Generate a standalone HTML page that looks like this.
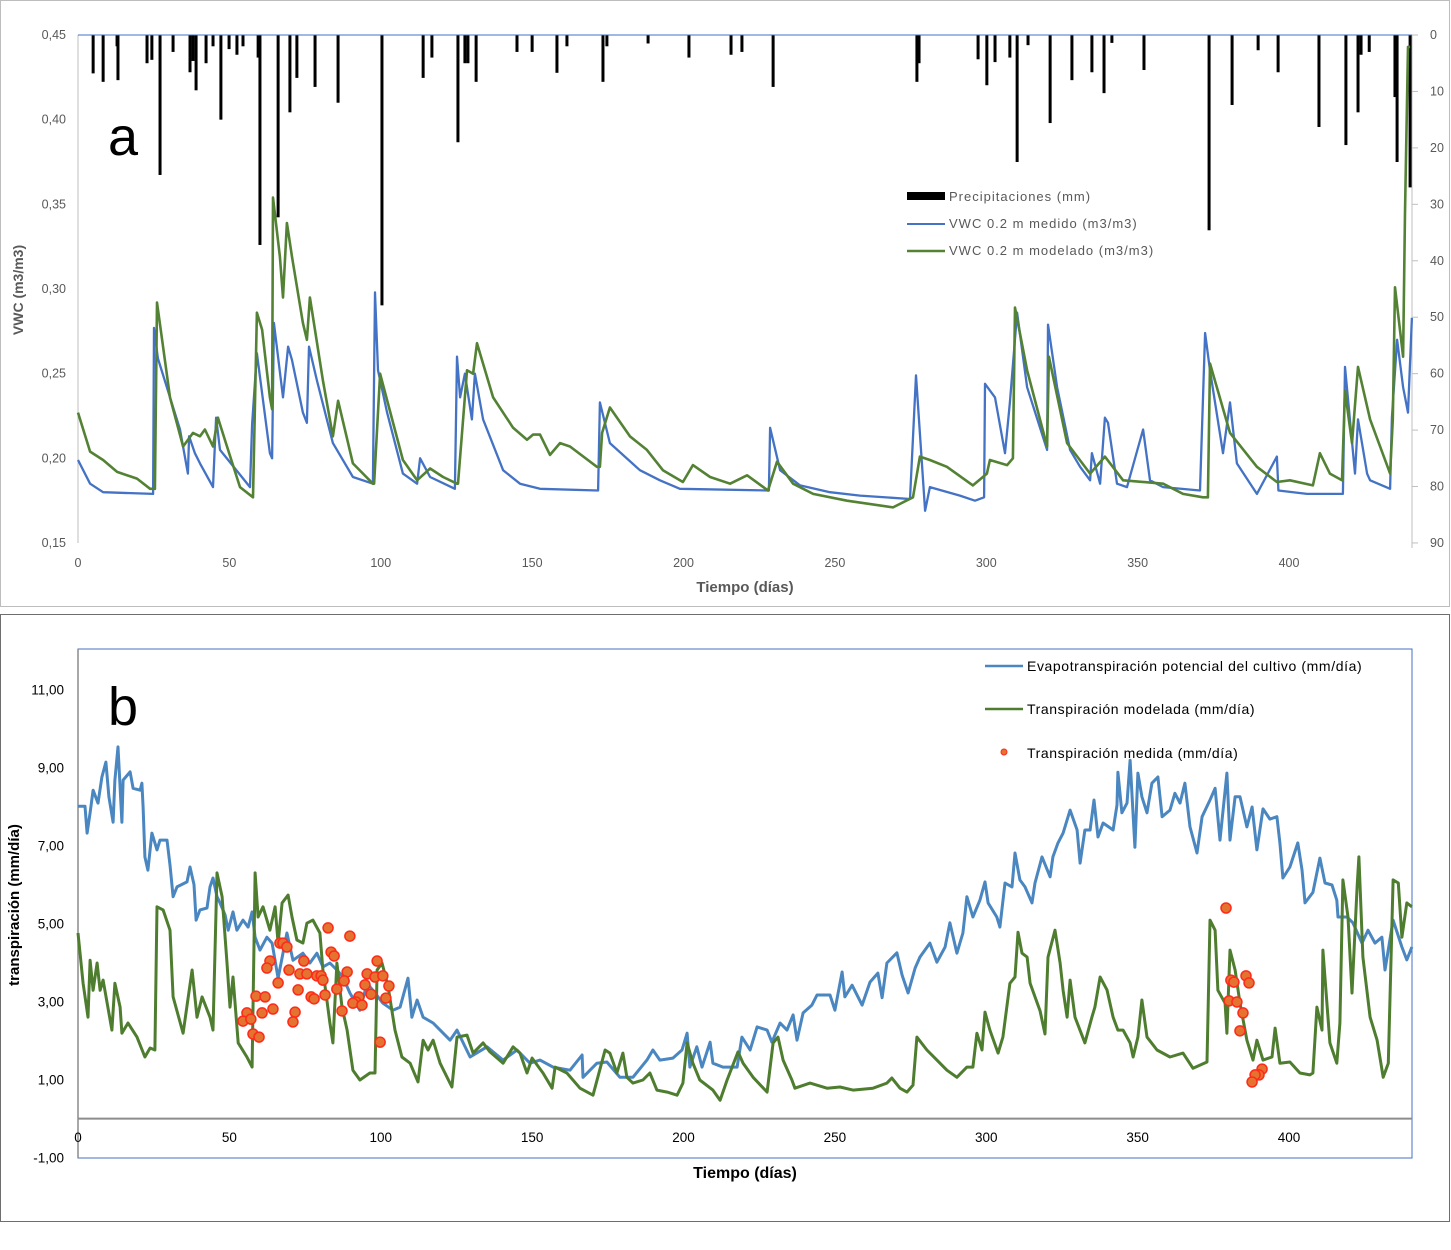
<!DOCTYPE html>
<html><head><meta charset="utf-8"><style>
html,body{margin:0;padding:0;background:#fff;}
svg{display:block;font-family:"Liberation Sans",sans-serif;}
</style></head><body>
<svg id="chart" width="1451" height="1250" viewBox="0 0 1451 1250" xmlns="http://www.w3.org/2000/svg">
<rect x="0.5" y="0.5" width="1449" height="606" fill="#fff" stroke="#bdbdbd"/>
<rect x="0.5" y="614.5" width="1449" height="607" fill="#fff" stroke="#6e6e6e"/>
<g id="pa"></g>
<g id="pb"></g>
</svg>
<script>
// ---------- Panel a data ----------
const precipDays=[5,8.3,12.9,13.2,22.8,24.4,27.1,31.4,37,38,39,42.3,44.6,47.2,49.9,52.5,54.5,59.5,60.1,66.1,70,72.3,78.3,85.9,100.4,114,116.9,125.5,127.8,128.8,131.5,145,150,158.2,161.5,173.4,174.7,188.3,201.8,215.7,219.3,229.6,277.1,277.8,297.3,300.2,302.9,307.8,310.2,313.8,321.1,328.3,334.9,338.9,341.5,352.1,373.6,381.2,389.8,396.4,409.9,418.8,422.8,423.8,426.5,435,435.7,440];
const precipMm=[6.8,8.3,2,8,5,4.4,24.8,3,6.6,4.6,9.8,5,2,15,2.5,3.5,2,4,37.2,32.3,13.7,7.6,9.2,12,47.9,7.6,4,19,5,5,8.3,3,3,6.7,2,8.3,2,1.5,4,3.5,3,9.2,8.3,5,4.3,8.9,4.8,4,22.5,1.8,15.6,8,6.6,10.3,1.4,6.2,34.6,12.4,2.7,6.6,16.3,19.5,13.7,3.5,3,11,22.5,27];
const vwcMedDays=[0,4,8.3,24.8,25.1,26.4,33.7,36.3,36.7,38.6,40.3,44.6,45.6,46.9,56.8,57.5,59.1,63.4,64.1,64.7,67.7,69.4,70.7,74.3,75.6,76.3,78.9,84.2,90.8,97.4,98.1,99.1,102.1,107.3,112,113,116.3,124.5,125.2,126.2,127.8,130.1,131.1,133.8,140.4,146,152.6,171.8,172.4,175.7,185.6,192.2,198.8,228.2,228.6,231.9,238.5,248.4,258.3,274.8,276.8,279.8,281.4,291.3,296.3,299.3,299.6,302.9,306.2,307.8,310.2,313.5,320.1,320.4,323.4,327.7,331,334.3,334.9,337.6,339.2,340.2,343.2,346.5,351.8,354.1,358.4,370.6,372.3,373.9,378.2,380.5,382.8,389.4,396,396.5,405.9,417.8,418.5,420.1,421.8,422.8,425.8,426.8,433.4,434,435.7,437.7,439.3,440.6];
const vwcMedVals=[.199,.185,.18,.179,.277,.259,.217,.191,.213,.203,.197,.183,.224,.205,.183,.22,.262,.203,.2,.28,.236,.266,.258,.227,.221,.266,.246,.209,.189,.185,.298,.252,.227,.191,.185,.2,.189,.182,.26,.236,.25,.223,.25,.223,.193,.185,.182,.181,.233,.209,.193,.187,.182,.181,.218,.193,.184,.18,.178,.176,.249,.169,.183,.178,.175,.177,.244,.236,.203,.233,.286,.242,.205,.279,.242,.205,.195,.187,.203,.185,.224,.221,.185,.183,.217,.187,.183,.181,.274,.252,.203,.233,.197,.179,.201,.181,.179,.179,.254,.223,.191,.223,.191,.187,.182,.224,.27,.242,.227,.283];
const vwcModDays=[0,4,8.3,12.9,19.5,23.8,25.4,26.1,30.4,34.7,38,40.3,41.9,44.6,46.2,49.2,53.5,57.8,59.1,60.8,63.4,64.1,64.4,66.7,67.7,69,70.7,74.3,75.6,76.6,80.9,84.2,85.9,90.8,97.4,97.8,99.8,107.3,112,116.3,120.6,125.2,125.5,128.5,130.5,131.8,137.1,143.7,148.3,150.3,152.6,155.9,159.2,162.5,171.4,172.4,173.1,175.7,182.3,187.9,193.2,199.8,203.1,208.8,215.4,221,227.9,230.9,236.2,242.8,254,269.2,275.8,278.1,281.4,287,295.6,300.2,301.2,306.9,308.8,309.5,313.5,320.1,320.7,326.7,334.3,339.2,345.2,358.4,365,371.6,373.2,373.9,380.5,389.4,396,400.3,407.9,410.2,413.5,417.5,418.5,420.8,422.8,426.8,433.4,434.3,435,437.7,438.3,439.3,440];
const vwcModVals=[.227,.204,.199,.192,.188,.182,.182,.292,.236,.207,.215,.213,.217,.207,.224,.207,.183,.177,.286,.276,.236,.229,.354,.319,.295,.339,.319,.28,.27,.295,.246,.213,.234,.197,.185,.185,.25,.199,.187,.194,.189,.185,.185,.252,.25,.268,.236,.218,.211,.214,.214,.202,.209,.207,.195,.195,.215,.23,.213,.205,.193,.186,.196,.189,.185,.19,.181,.198,.185,.179,.175,.171,.177,.201,.199,.195,.184,.191,.199,.196,.2,.289,.252,.207,.26,.209,.191,.201,.187,.185,.179,.177,.177,.256,.215,.195,.186,.187,.184,.203,.191,.187,.24,.209,.254,.223,.191,.223,.301,.26,.345,.443,.443];
const aXTicks=[0,50,100,150,200,250,300,350,400];
const aYTicks=[0.15,0.2,0.25,0.3,0.35,0.4,0.45];
const aY2Ticks=[0,10,20,30,40,50,60,70,80,90];
// ---------- Panel b data ----------
const etcDays=[0,2.3,3,4,5,6.6,7.9,9.2,10.2,11.6,12.2,13.2,14.5,14.9,17.2,18.2,20.5,21.1,21.5,22.1,23.1,24.4,26.1,27.1,29.4,30.4,31.4,32.7,36,37,38.3,39,40.3,42.6,43.6,44.6,45.9,46.9,48.6,49.6,51.2,52.5,54.5,56.2,57.5,58.5,60.1,62.4,64.1,66.1,69,71,74.3,76.6,78.9,80.9,83.2,85.5,87.5,89.8,93.1,95.5,97.4,100.7,104,106.4,109,110.3,112,114,117.3,119.6,122.9,125.2,129.5,135.1,140.4,145,149.3,152.6,156.9,162.5,166.5,166.8,171.4,174.7,179,183.3,187.9,189.9,192.2,196.5,199.5,201.2,202.1,204.4,206.1,208.8,209.7,213,217.7,219.3,222,224.3,227.6,229.2,231.9,234.2,236.2,237.5,239.5,242.4,244.1,248.4,250,252.4,253.3,255.7,259,261.6,264.2,265.6,267.2,270.5,272.2,274.2,276.5,278.1,281.4,283.7,286.4,288,290.3,292.3,293.6,295.6,297.9,299.6,300.6,303.5,304.5,306.2,308.5,309.5,311.1,312.8,315.1,316.1,318.4,321.1,322,323.7,325.4,327.7,330,331,332.6,334.3,335.6,336.9,338.6,341.9,343.2,343.5,344.8,346.5,347.5,349.1,350.1,351.4,353.1,354.7,356.7,358.1,360.7,362.3,364,365.6,367.3,369.6,371.3,373.9,375.6,377.2,379.5,380.5,382.2,383.8,386.1,387.8,389.4,391.4,393.7,396,397,398,400.3,402.9,404.3,405.3,407.9,410.2,411.9,414.2,415.8,416.2,419.2,421.1,424.1,426.1,428.4,430.7,431.7,434.4,437.3,438.9,440.6];
const etcVals=[8.01,8.01,7.32,7.84,8.42,8.09,8.76,9.14,8.25,7.6,8.68,9.53,7.6,8.68,8.89,8.47,8.42,8.6,7.99,6.71,6.37,7.32,6.89,7.14,7.14,6.5,5.69,5.94,6.07,6.45,6.0,5.09,5.35,5.4,5.94,6.17,5.69,5.53,5.22,4.83,5.3,4.83,5.09,4.91,5.3,4.65,4.32,4.65,4.5,3.6,4.76,4.06,4.24,3.99,4.24,3.89,3.99,3.81,3.63,3.22,2.78,3.47,3.29,2.96,2.78,2.86,3.6,2.6,3.04,2.6,2.45,2.27,2.01,2.27,1.58,1.84,1.5,1.76,1.42,1.5,1.32,1.24,1.63,1.06,1.42,1.45,1.06,1.06,1.5,1.76,1.5,1.55,1.76,2.19,1.32,1.84,1.32,1.96,1.42,1.32,1.32,2.09,1.76,2.35,2.27,1.96,2.45,2.27,2.66,2.01,2.71,2.91,3.17,3.17,2.78,3.76,3.12,3.42,2.91,3.5,3.73,3.1,3.99,4.25,3.68,3.22,3.86,4.14,4.5,4.01,4.4,5.02,4.24,4.76,5.69,5.17,5.6,6.07,5.53,5.17,4.91,6.04,5.94,6.81,6.12,5.94,5.53,6.04,6.71,6.2,6.71,7.07,7.32,7.91,7.4,6.55,7.4,7.4,8.17,7.22,7.58,7.4,8.04,8.88,7.84,8.09,9.19,6.96,8.86,8.25,7.84,8.6,8.76,7.74,7.91,8.34,8.09,8.6,7.48,6.81,7.74,8.17,8.47,7.14,8.86,7.14,8.25,8.25,7.48,7.99,6.89,7.94,7.68,7.74,7.07,6.17,6.45,7.07,6.38,5.53,5.8,6.68,6.04,5.99,5.6,5.17,5.17,5.02,4.5,4.83,4.5,4.65,3.81,5.09,4.4,4.07,4.4];
const trModDays=[0,1.7,3.3,4,5,6.3,7.3,8.3,11.2,12.2,13.9,14.5,16.5,19.5,22.1,23.8,25.4,26.1,28.1,30.4,31.4,34.7,37.7,39.3,41,43.6,44.6,45.9,47.6,49.2,50.2,51.2,52.9,55.8,57.5,58.5,59.5,61.1,63.4,65.1,66.1,67.4,69.4,70.7,72.3,74.3,75.6,77.6,79.9,80.9,83.2,84.2,85.5,87.2,88.9,90.8,93.1,96.4,98.1,98.8,100.4,102.4,104.7,107,109.7,112.3,114,115.6,117.3,119.6,123.5,125.2,128.5,130.5,133.8,136.1,140.4,143.7,146,148.3,150,153.6,156.6,157.6,161.5,165.8,170.1,174.1,175.7,178,180,181.3,183.3,186.6,188.9,191.2,194.6,197.9,199.8,201.2,203.1,205.4,209.7,212.1,214.4,218,219.7,223,227.6,229.6,231.2,232.9,235.8,236.8,241.8,247.4,251.7,256,262.6,267.2,268.8,271.5,273.8,275.8,277.1,280.4,283.7,287,290.3,293.6,295.6,296.9,298.6,299.6,301.2,303.9,305.5,307.8,309.5,310.5,311.8,313.5,314.5,317.8,319.4,320.4,322.7,324.4,325.4,326.7,327.7,329.3,332.6,334.9,335.9,337.6,339.9,341.9,343.5,345.2,347.5,348.5,350.1,351.4,353.1,356.4,360.7,365,368.3,372.9,373.9,375.6,376.5,378.9,379.5,380.5,382.2,383.8,386.1,388.1,389.4,391.4,394.4,395.4,397,400.3,403.6,406.9,407.9,409.2,410.9,411.2,413.5,415.8,416.8,417.8,419.5,420.8,422.5,423.1,424.4,426.8,429.1,431.1,432.8,434.4,436.1,437.3,438.9,440.6];
const trModVals=[4.76,3.47,2.6,4.06,3.29,3.99,3.29,3.55,2.27,3.47,2.86,2.19,2.45,2.09,1.58,1.81,1.76,5.43,5.35,4.83,3.12,2.19,3.81,2.6,3.12,2.6,2.27,6.3,5.69,3.99,2.86,3.63,1.94,1.58,1.32,6.3,5.17,5.43,4.83,5.43,4.5,5.53,5.73,5.17,4.58,4.5,5.01,5.09,4.76,3.81,2.45,1.94,3.99,2.86,2.27,1.24,0.99,1.17,1.17,3.81,3.99,3.4,2.27,1.58,1.42,0.94,2.01,1.76,2.01,1.42,0.81,2.09,2.14,1.68,1.94,1.71,1.42,1.84,1.68,1.17,1.55,1.17,0.78,1.32,1.17,0.78,0.6,1.76,1.68,1.17,1.68,1.06,0.91,0.99,1.17,0.73,0.68,0.6,0.91,1.94,1.42,0.99,0.73,0.47,0.99,1.71,1.42,1.06,0.68,1.94,2.09,1.5,0.99,0.78,0.91,0.78,0.81,0.73,0.78,0.91,1.04,0.78,0.68,0.86,2.09,1.76,1.5,1.24,1.06,1.32,1.32,2.19,1.76,2.73,2.27,1.68,2.09,3.47,3.63,4.78,4.24,4.14,3.47,2.76,2.17,4.14,4.83,3.99,3.29,2.6,3.55,2.6,1.94,2.6,2.86,3.63,3.3,2.6,2.27,2.27,1.94,1.58,2.09,3.04,2.09,1.76,1.58,1.68,1.29,1.45,5.09,4.83,3.29,2.96,2.19,4.32,3.81,2.96,2.01,1.5,2.01,1.5,1.58,2.32,1.42,1.45,1.17,1.12,1.17,2.86,2.27,4.32,1.94,1.42,2.45,6.12,5.17,3.22,5.94,6.71,4.14,2.6,2.01,1.06,1.42,6.12,6.04,4.65,5.53,5.43];
const trMeasDays=[82.6,89.8,66.7,67.7,69,63.4,62.4,74.6,83.6,84.6,69.7,73.3,75.6,78.9,80.3,80.9,88.9,87.9,98.8,95.5,98.1,100.7,102.7,94.8,66.1,72.7,85.5,81.6,77,78,58.8,61.8,92.8,96.8,101.7,91.8,90.8,93.8,64.4,87.2,60.8,71.7,55.8,54.5,57.1,71,57.8,59.8,99.8,379.2,380.8,381.8,385.8,386.8,380.2,382.8,384.8,383.8,391.1,390.1,388.8,387.8];
const trMeasVals=[4.89,4.68,4.5,4.5,4.4,4.04,3.86,4.04,4.27,4.17,3.81,3.71,3.71,3.66,3.66,3.55,3.76,3.53,4.04,3.71,3.63,3.66,3.4,3.43,3.48,3.3,3.32,3.17,3.12,3.07,3.14,3.12,3.12,3.19,3.09,2.99,2.96,2.91,2.81,2.76,2.71,2.73,2.71,2.5,2.55,2.48,2.17,2.09,1.96,5.4,3.55,3.5,3.66,3.48,3.02,2.99,2.71,2.25,1.27,1.12,1.12,0.94];
const bXTicks=[0,50,100,150,200,250,300,350,400];
const bYTicks=[-1,1,3,5,7,9,11];

const NS="http://www.w3.org/2000/svg";
function mk(parent,tag,attrs,text){const e=document.createElementNS(NS,tag);for(const k in attrs)e.setAttribute(k,attrs[k]);if(text!==undefined)e.textContent=text;parent.appendChild(e);return e;}
function fmt(v){return v.toFixed(2).replace('.',',');}

const X0=78,PXD=3.0275;
const xs=d=>X0+d*PXD;
const yA=v=>35+(0.45-v)*1693.3;
const yP=mm=>35+mm*5.644;
const yB=v=>1118.6-v*39;

const pa=document.getElementById('pa');
const pb=document.getElementById('pb');

let e;
e=mk(pa,'line',{x1:78,y1:35,x2:78,y2:543,stroke:'#bfbfbf','stroke-width':1});


e=mk(pa,'line',{x1:1412,y1:35,x2:1412,y2:548,stroke:'#bfbfbf','stroke-width':1});


aYTicks.forEach(v=>{
  e=mk(pa,'text',{x:66,y:yA(v)+4,'text-anchor':'end','font-size':12.5,fill:'#595959'},fmt(v));
  
  
});
aY2Ticks.forEach(v=>{
  e=mk(pa,'line',{x1:1412,y1:yP(v),x2:1418,y2:yP(v),stroke:'#bfbfbf'});
  
  
  e=mk(pa,'text',{x:1430,y:yP(v)+4,'font-size':12.5,fill:'#595959'},String(v));
  
  
});
aXTicks.forEach(v=>{
  e=mk(pa,'text',{x:xs(v),y:567,'text-anchor':'middle','font-size':12.5,fill:'#595959'},String(v));
  
  
});
e=mk(pa,'text',{x:745,y:592,'text-anchor':'middle','font-size':15,'font-weight':'bold',fill:'#595959'},'Tiempo (días)');


e=mk(pa,'text',{x:0,y:0,'text-anchor':'middle','font-size':14,'font-weight':'bold',fill:'#595959',transform:'translate(23,290) rotate(-90)'},'VWC (m3/m3)');


e=mk(pa,'text',{x:108,y:155,'font-size':54,fill:'#000'},'a');



precipDays.forEach((d,i)=>{
  e=mk(pa,'rect',{x:xs(d)-1.5,y:35,width:3,height:precipMm[i]*5.644,fill:'#000'});
  
  
});
e=mk(pa,'line',{x1:78,y1:35,x2:1412,y2:35,stroke:'#4472c4','stroke-width':1});



function path(parent,days,vals,yf,color,w,name){
  let d='';days.forEach((t,i)=>{d+=(i?'L':'M')+xs(t).toFixed(1)+' '+yf(vals[i]).toFixed(1);});
  const p=mk(parent,'path',{d:d,fill:'none',stroke:color,'stroke-width':w,'stroke-linejoin':'round'});
  
  
  return p;
}
path(pa,vwcMedDays,vwcMedVals,yA,'#4472c4',2.3,'vwc-measured-line');
path(pa,vwcModDays,vwcModVals,yA,'#548235',2.6,'vwc-modelled-line');

const lgA=mk(pa,'g',{});


e=mk(lgA,'rect',{x:907,y:192,width:38,height:8,fill:'#000'});


e=mk(lgA,'line',{x1:907,y1:224,x2:945,y2:224,stroke:'#4472c4','stroke-width':2});


e=mk(lgA,'line',{x1:907,y1:251,x2:945,y2:251,stroke:'#548235','stroke-width':2.5});


[['Precipitaciones (mm)',201],['VWC 0.2 m medido (m3/m3)',228],['VWC 0.2 m modelado (m3/m3)',255]].forEach(t=>{
  e=mk(lgA,'text',{x:949,y:t[1],'font-size':13,'letter-spacing':'1',fill:'#595959'},t[0]);
  
  
});

// ---- Panel b ----
e=mk(pb,'rect',{x:78,y:649,width:1334,height:509,fill:'none',stroke:'#4472c4','stroke-width':1});


e=mk(pb,'line',{x1:78,y1:yB(0),x2:1412,y2:yB(0),stroke:'#8c8c8c','stroke-width':2});


e=mk(pb,'line',{x1:78,y1:649,x2:78,y2:1158,stroke:'#8c8c8c','stroke-width':1.5});


bYTicks.forEach(v=>{
  e=mk(pb,'text',{x:64,y:yB(v)+5,'text-anchor':'end','font-size':13.5,fill:'#000'},fmt(v));
  
  
});
bXTicks.forEach(v=>{
  e=mk(pb,'text',{x:xs(v),y:1142,'text-anchor':'middle','font-size':13.5,fill:'#000'},String(v));
  
  
});
e=mk(pb,'text',{x:745,y:1178,'text-anchor':'middle','font-size':16,'font-weight':'bold',fill:'#000'},'Tiempo (días)');


e=mk(pb,'text',{x:0,y:0,'text-anchor':'middle','font-size':15,'font-weight':'bold',fill:'#000',transform:'translate(19,905) rotate(-90)'},'transpiración (mm/día)');


e=mk(pb,'text',{x:108,y:725,'font-size':54,fill:'#000'},'b');



path(pb,etcDays,etcVals,yB,'#4a86c0',3,'etc-potential-line');
path(pb,trModDays,trModVals,yB,'#4f7d2f',3,'transpiration-modelled-line');
trMeasDays.forEach((d,i)=>{
  e=mk(pb,'circle',{cx:xs(d),cy:yB(trMeasVals[i]),r:5,fill:'#e4732f',stroke:'#ff2a1a','stroke-width':1.5});
  
  
});

const lgB=mk(pb,'g',{});


e=mk(lgB,'line',{x1:985,y1:666,x2:1023,y2:666,stroke:'#4a86c0','stroke-width':2.5});


e=mk(lgB,'line',{x1:985,y1:709,x2:1023,y2:709,stroke:'#4f7d2f','stroke-width':2.5});


e=mk(lgB,'circle',{cx:1004,cy:752,r:3,fill:'#e4732f',stroke:'#ff2a1a'});


[['Evapotranspiración potencial del cultivo (mm/día)',671],['Transpiración modelada (mm/día)',714],['Transpiración medida (mm/día)',758]].forEach(t=>{
  e=mk(lgB,'text',{x:1027,y:t[1],'font-size':14,'letter-spacing':'0.6',fill:'#000'},t[0]);
  
  
});
</script>
</body></html>
